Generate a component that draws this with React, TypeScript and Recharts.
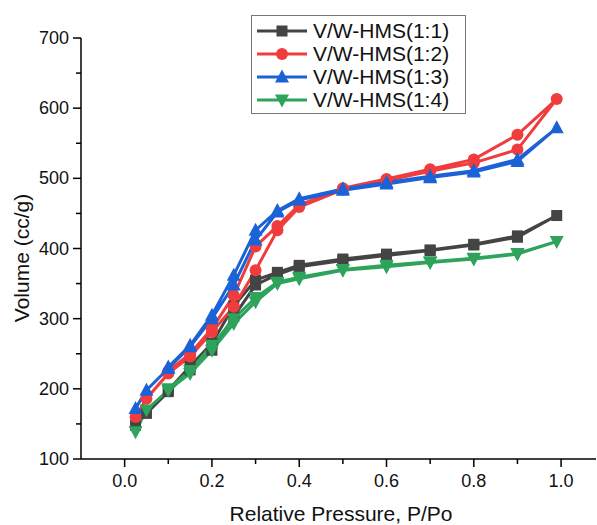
import { LineChart, Line, XAxis, YAxis, Legend, Label } from "recharts";

// relative pressure points: adsorption branch, then desorption branch
const adsP = [0.025, 0.05, 0.1, 0.15, 0.2, 0.25, 0.3, 0.35, 0.4, 0.5, 0.6, 0.7, 0.8, 0.9, 0.99];
const desP = [0.9, 0.8, 0.7, 0.6, 0.5, 0.4, 0.35, 0.3, 0.25, 0.2, 0.15, 0.1];

const ads11 = [148, 165, 196, 227, 255, 303, 348, 363, 374, 383, 390, 397, 405, 416, 447];
const des11 = [418, 406, 398, 392, 385, 376, 366, 355, 318, 265, 232, 198];

const ads12 = [160, 186, 222, 246, 281, 317, 369, 426, 459, 484, 497, 510, 522, 541, 613];
const des12 = [562, 527, 513, 499, 486, 462, 432, 403, 333, 286, 250, 225];

const ads13 = [172, 198, 229, 260, 300, 348, 412, 452, 469, 483, 492, 501, 509, 524, 572];
const des13 = [527, 511, 503, 494, 485, 471, 454, 426, 362, 305, 262, 231];

const ads14 = [139, 170, 198, 222, 255, 293, 324, 350, 357, 369, 374, 380, 385, 392, 410];
const des14 = [393, 386, 381, 376, 370, 359, 352, 330, 300, 262, 226, 200];

const names = ["V/W-HMS(1:1)", "V/W-HMS(1:2)", "V/W-HMS(1:3)", "V/W-HMS(1:4)"];
const colors = ["#444444", "#f03c3c", "#1a62d6", "#2da35b"];
const markers = ["square", "circle", "up", "down"];

const xTicks = [0, 0.1, 0.2, 0.3, 0.4, 0.5, 0.6, 0.7, 0.8, 0.9, 1.0];
const yTicks = [100, 150, 200, 250, 300, 350, 400, 450, 500, 550, 600, 650, 700];

const FONT = "'Liberation Sans', Arial, sans-serif";

const loop = (ads: number[], des: number[]) => [
  ...adsP.map((p, i) => ({ p, v: ads[i] })),
  ...desP.map((p, i) => ({ p, v: des[i] })),
];

const series = [
  loop(ads11, des11),
  loop(ads12, des12),
  loop(ads13, des13),
  loop(ads14, des14),
];

function Marker({ kind, cx, cy, color }: { kind: string; cx: number; cy: number; color: string }) {
  if (kind === "square") return <rect x={cx - 5.5} y={cy - 5.5} width={11} height={11} fill={color} />;
  if (kind === "circle") return <circle cx={cx} cy={cy} r={6} fill={color} />;
  if (kind === "up")
    return <polygon points={`${cx},${cy - 7.5} ${cx + 7},${cy + 5.5} ${cx - 7},${cy + 5.5}`} fill={color} />;
  return <polygon points={`${cx},${cy + 7.5} ${cx + 7},${cy - 5.5} ${cx - 7},${cy - 5.5}`} fill={color} />;
}

const XTick = (props: any) => {
  const { x, y, payload } = props;
  const major = Math.round(payload.value * 10) % 2 === 0;
  return (
    <g>
      <line x1={x} x2={x} y1={y} y2={y + (major ? 8 : 5)} stroke="#000" strokeWidth={1.5} />
      {major && (
        <text x={x} y={y + 28} textAnchor="middle" fontSize={18} fontFamily={FONT} fill="#111">
          {payload.value.toFixed(1)}
        </text>
      )}
    </g>
  );
};

const YTick = (props: any) => {
  const { x, y, payload } = props;
  const major = payload.value % 100 === 0;
  return (
    <g>
      <line x1={x} x2={x - (major ? 8 : 5)} y1={y} y2={y} stroke="#000" strokeWidth={1.5} />
      {major && (
        <text x={x - 12} y={y + 6} textAnchor="end" fontSize={18} fontFamily={FONT} fill="#111">
          {payload.value}
        </text>
      )}
    </g>
  );
};

const LegendBox = () => (
  <div
    style={{
      border: "1px solid #777",
      background: "#fff",
      padding: "3px 0 2px 0",
      width: 215,
      boxSizing: "border-box",
      fontFamily: FONT,
    }}
  >
    {names.map((n, i) => (
      <div key={n} style={{ display: "flex", alignItems: "center", height: 23 }}>
        <svg width={61} height={20} style={{ flex: "none" }}>
          <line x1={5} x2={55} y1={10} y2={10} stroke={colors[i]} strokeWidth={3} />
          <Marker kind={markers[i]} cx={30} cy={10} color={colors[i]} />
        </svg>
        <span style={{ fontSize: 21, color: "#111", whiteSpace: "nowrap" }}>{n}</span>
      </div>
    ))}
  </div>
);

export default function App() {
  return (
    <div style={{ position: "absolute", left: 0, top: 0, background: "#fff" }}>
      <LineChart width={597} height={525} margin={{ top: 38, right: 1, bottom: 0, left: 0 }}>
        <XAxis
          type="number"
          dataKey="p"
          domain={[-0.1, 1.08]}
          ticks={xTicks}
          allowDataOverflow
          height={66}
          tickSize={0}
          tickMargin={0}
          tick={<XTick />}
          axisLine={{ stroke: "#000", strokeWidth: 1.5 }}
          tickLine={false}
          interval={0}
        >
          <Label
            content={() => (
              <text x={341} y={521} textAnchor="middle" fontSize={21} fontFamily={FONT} fill="#111">
                Relative Pressure, P/Po
              </text>
            )}
          />
        </XAxis>
        <YAxis
          type="number"
          dataKey="v"
          domain={[100, 700]}
          ticks={yTicks}
          width={81}
          tickSize={0}
          tickMargin={0}
          tick={<YTick />}
          axisLine={{ stroke: "#000", strokeWidth: 1.5 }}
          tickLine={false}
          interval={0}
        >
          <Label
            content={() => (
              <text
                x={21}
                y={258}
                transform="rotate(-90 21 258)"
                textAnchor="middle"
                dominantBaseline="central"
                fontSize={21}
                fontFamily={FONT}
                fill="#111"
              >
                Volume (cc/g)
              </text>
            )}
          />
        </YAxis>
        <Legend
          layout="vertical"
          align="center"
          verticalAlign="middle"
          wrapperStyle={{ left: 251, top: 15, width: 215 }}
          content={() => <LegendBox />}
        />
        {series.map((d, i) => (
          <Line
            key={names[i]}
            name={names[i]}
            data={d}
            dataKey="v"
            stroke={colors[i]}
            strokeWidth={3}
            isAnimationActive={false}
            dot={(p: any) => (
              <Marker key={`${i}-${p.index}`} kind={markers[i]} cx={p.cx} cy={p.cy} color={colors[i]} />
            )}
            activeDot={false}
          />
        ))}
      </LineChart>
    </div>
  );
}
